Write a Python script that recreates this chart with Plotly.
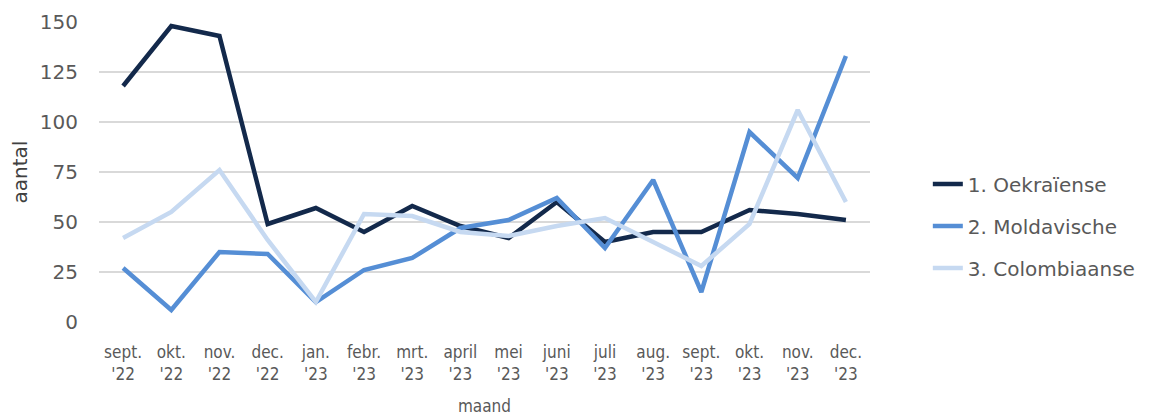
import plotly.graph_objects as go

months = ["sept.<br>'22", "okt.<br>'22", "nov.<br>'22", "dec.<br>'22", "jan.<br>'23", "febr.<br>'23",
          "mrt.<br>'23", "april<br>'23", "mei<br>'23", "juni<br>'23", "juli<br>'23", "aug.<br>'23",
          "sept.<br>'23", "okt.<br>'23", "nov.<br>'23", "dec.<br>'23"]
oekraiense = [118, 148, 143, 49, 57, 45, 58, 48, 42, 60, 40, 45, 45, 56, 54, 51]
moldavische = [27, 6, 35, 34, 10, 26, 32, 47, 51, 62, 37, 71, 15, 95, 72, 133]
colombiaanse = [42, 55, 76, 41, 10, 54, 53, 45, 43, 48, 52, 40, 28, 49, 106, 60]

series = [("1. Oekraïense", oekraiense, "#13294B"),
          ("2. Moldavische", moldavische, "#558ED5"),
          ("3. Colombiaanse", colombiaanse, "#C6D9F1")]

fig = go.Figure()
for i, (name, vals, col) in enumerate(series):
    fig.add_trace(go.Scatter(x=list(range(len(months))), y=vals, name=name, mode="lines",
                             line=dict(color=col, width=4.5), legendgroup=str(i)))

gray = "#595959"
narrow = "Liberation Sans Narrow, DejaVu Sans Condensed, sans-serif"
fig.update_layout(
    width=1141, height=411,
    margin=dict(l=91, r=279, t=14, b=97, autoexpand=False),
    plot_bgcolor="white", paper_bgcolor="white",
    font=dict(family="DejaVu Sans, Verdana, sans-serif", color=gray, size=18),
    legend=dict(x=1.075, y=0.32, xanchor="left", yanchor="middle",
                font=dict(size=20, color=gray), tracegroupgap=13),
    showlegend=True,
)
fig.update_xaxes(range=[-0.5, 15.5], tickmode="array", tickvals=list(range(len(months))),
                 ticktext=months, showgrid=False, zeroline=False, showline=False, automargin=False,
                 ticklabelstandoff=18,
                 tickfont=dict(family=narrow, size=17, color=gray),
                 title=dict(text="maand", font=dict(family=narrow, size=17, color=gray), standoff=17))
fig.update_yaxes(range=[0, 150], tickvals=[0, 25, 50, 75, 100, 125, 150], showgrid=True,
                 gridcolor="#D9D9D9", gridwidth=2, zeroline=False, showline=False, automargin=False,
                 tickfont=dict(size=20, color=gray), ticks="", ticklabelstandoff=20,
                 title=dict(text="aantal", font=dict(size=20, color="#404040"), standoff=15))

fig.write_html("out.html")
